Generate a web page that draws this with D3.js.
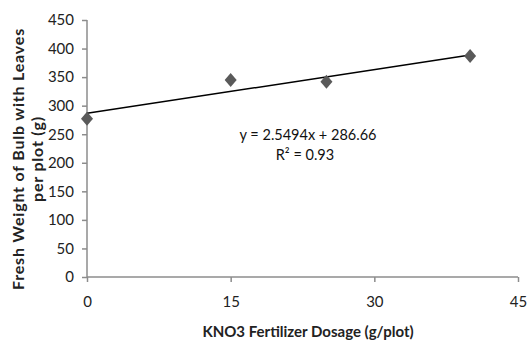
<!DOCTYPE html>
<html>
<head>
<meta charset="utf-8">
<script src="https://cdn.jsdelivr.net/npm/d3@7"></script>
<style>
  html, body { margin: 0; padding: 0; background: #fff; }
  svg { display: block; }
</style>
</head>
<body>
<script>
// Data
const dosage = [0, 15, 25, 40]
const freshWeight = [277, 345, 342, 387]
const xTicks = [0, 15, 30, 45]
const yTicks = [0, 50, 100, 150, 200, 250, 300, 350, 400, 450]
const trendSlope = [2.5494]
const trendIntercept = [286.66]
const trendText = ['y = 2.5494x + 286.66', 'R² = 0.93']

const width = 531
const height = 343
const margin = { top: 20, right: 13, bottom: 66, left: 87 }
const font = 'Lato, "Open Sans", sans-serif'

const svg = d3.select('body')
  .append('svg')
  .attr('width', width)
  .attr('height', height)

const x = d3.scaleLinear().domain([0, 45]).range([margin.left, width - margin.right])
const y = d3.scaleLinear().domain([0, 450]).range([height - margin.bottom, margin.top])

// X axis
const xAxis = svg.append('g')
  .attr('transform', `translate(0, ${y(0)})`)
  .call(d3.axisBottom(x).tickValues(xTicks).tickSize(5).tickPadding(14))

// Y axis
const yAxis = svg.append('g')
  .attr('transform', `translate(${x(0)}, 0)`)
  .call(d3.axisLeft(y).tickValues(yTicks).tickSize(5).tickPadding(8))

svg.selectAll('.domain, .tick line')
  .attr('stroke', '#8c8c8c')
  .attr('stroke-width', 1.5)
xAxis.select('.domain').attr('d', `M${x(0)},0H${x(45)}`)
yAxis.select('.domain').attr('d', `M0,${y(0)}V${y(450)}`)

svg.selectAll('.tick text')
  .attr('font-family', font)
  .attr('font-size', 15)
  .attr('fill', '#222')

// Trend line
const lineX = [d3.min(dosage), d3.max(dosage)]
svg.append('line')
  .attr('x1', x(lineX[0]))
  .attr('y1', y(trendIntercept[0] + trendSlope[0] * lineX[0]))
  .attr('x2', x(lineX[1]))
  .attr('y2', y(trendIntercept[0] + trendSlope[0] * lineX[1]))
  .attr('stroke', '#000')
  .attr('stroke-width', 1.5)

// Diamond markers
const diamond = 'M0,-7L6,0L0,7L-6,0Z'
svg.selectAll('path.pt')
  .data(dosage)
  .join('path')
  .attr('class', 'pt')
  .attr('d', diamond)
  .attr('transform', (d, i) => `translate(${x(d)}, ${y(freshWeight[i])})`)
  .attr('fill', '#5a5a5a')

// Trendline equation
svg.append('text')
  .attr('x', 308)
  .attr('y', 140)
  .attr('text-anchor', 'middle')
  .attr('font-family', font)
  .attr('font-size', 14.5)
  .attr('fill', '#111')
  .text(trendText[0])
svg.append('text')
  .attr('x', 305)
  .attr('y', 160)
  .attr('text-anchor', 'middle')
  .attr('font-family', font)
  .attr('font-size', 14.5)
  .attr('fill', '#111')
  .text(trendText[1])

// Axis titles
svg.append('text')
  .attr('x', 308)
  .attr('y', 337)
  .attr('text-anchor', 'middle')
  .attr('font-family', font)
  .attr('font-weight', 'bold')
  .attr('font-size', 15)
  .attr('fill', '#222')
  .text('KNO3 Fertilizer Dosage (g/plot)')

const yTitle = svg.append('text')
  .attr('transform', 'translate(0, 159) rotate(-90)')
  .attr('text-anchor', 'middle')
  .attr('font-family', font)
  .attr('font-weight', 'bold')
  .attr('font-size', 16)
  .attr('letter-spacing', 0.8)
  .attr('fill', '#222')
yTitle.append('tspan').attr('x', 0).attr('y', 24).text('Fresh Weight of Bulb with Leaves')
yTitle.append('tspan').attr('x', 0).attr('y', 43).text('per plot (g)')
</script>
</body>
</html>
